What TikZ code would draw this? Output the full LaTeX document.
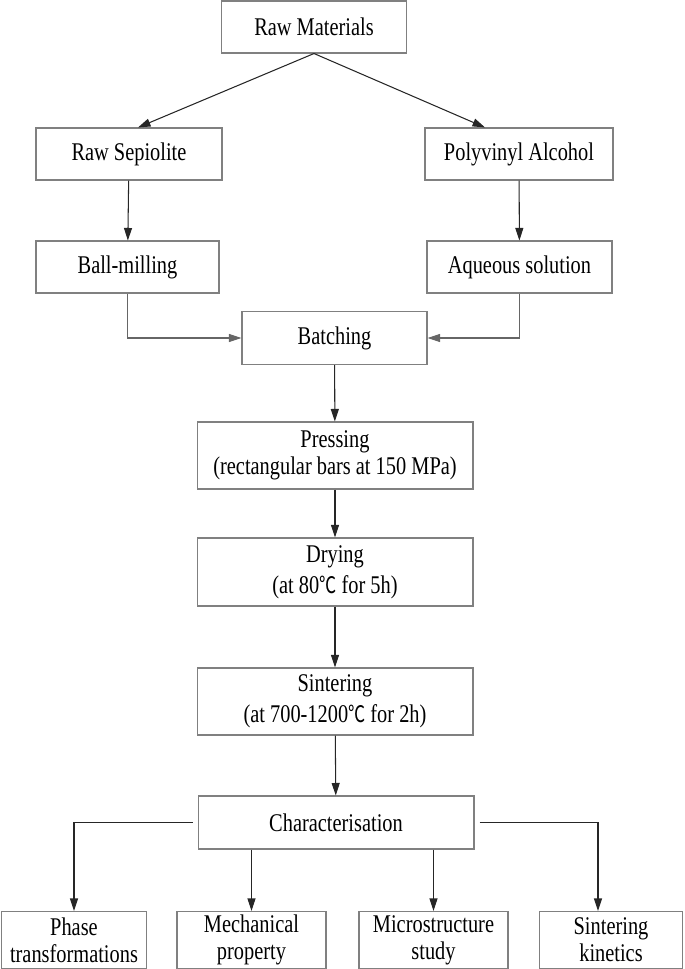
\documentclass[tikz,border=0pt]{standalone}
\usepackage{fontspec}
\setmainfont{Liberation Serif}[FakeStretch=0.8]
\newfontfamily\cjk{Noto Sans CJK SC}[FakeStretch=0.75]
\usetikzlibrary{arrows.meta}
\newcommand{\degc}{{\cjk\fontsize{13}{13}\selectfont ℃}}

\begin{document}
\begin{tikzpicture}[x=0.02cm, y=-0.02cm,
          >={Triangle[length=0.25cm, width=0.16cm]},
          stepbox/.style={rectangle, draw=black!50, line width=0.6pt, align=center,
            inner sep=0pt, font=\fontsize{14.5}{15.5}\selectfont},
          flow/.style={->, draw=black!85, line width=0.6pt},
          feed/.style={->, draw=black!60, line width=0.6pt}]

        \useasboundingbox (0,0) rectangle (685,969);

        \node[stepbox, minimum width=3.7cm,  minimum height=1.04cm] (raw)    at (314,27)    {Raw Materials};
        \node[stepbox, minimum width=3.72cm, minimum height=1.04cm] (sep)    at (129,154)   {Raw Sepiolite};
        \node[stepbox, minimum width=3.76cm, minimum height=1.04cm] (pva)    at (519,154)   {Polyvinyl Alcohol};
        \node[stepbox, minimum width=3.66cm, minimum height=1.04cm] (ball)   at (127.5,267) {Ball-milling};
        \node[stepbox, minimum width=3.7cm,  minimum height=1.04cm] (aq)     at (519.5,267) {Aqueous solution};
        \node[stepbox, minimum width=3.7cm,  minimum height=1.06cm] (batch)  at (334.5,338) {Batching};

        \node[stepbox, minimum width=5.52cm, minimum height=1.34cm] (press)  at (335,455.5) {Pressing\\(rectangular bars at 150 MPa)};
        \node[stepbox, minimum width=5.52cm, minimum height=1.36cm] (dry)    at (335,572)   {Drying\\[2pt](at 80\degc{} for 5h)};
        \node[stepbox, minimum width=5.52cm, minimum height=1.34cm] (sinter) at (335,701.5) {Sintering\\[2pt](at 700-1200\degc{} for 2h)};
        \node[stepbox, minimum width=5.52cm, minimum height=1.06cm] (char)   at (336,822.5) {Characterisation};

        \node[stepbox, minimum width=2.9cm,  minimum height=1.14cm] (phase)  at (74,940)    {Phase\\transformations};
        \node[stepbox, minimum width=2.98cm, minimum height=1.14cm] (mech)   at (251.5,940) {Mechanical\\property};
        \node[stepbox, minimum width=2.98cm, minimum height=1.14cm] (micro)  at (433.5,940) {Microstructure\\study};
        \node[stepbox, minimum width=2.86cm, minimum height=1.14cm] (kin)    at (611,940)   {Sintering\\kinetics};

        % raw materials
        \draw[flow] (raw.south) -- ([xshift=0.18cm]sep.north);
        \draw[flow] (raw.south) -- ([xshift=-0.68cm]pva.north);
        \draw[flow] (sep) -- (ball);
        \draw[flow] (pva) -- (aq);

        % batching
        \draw[feed] (ball.south) |- (batch.west);
        \draw[feed] (aq.south)   |- (batch.east);

        % processing
        \draw[flow] (batch)  -- (press);
        \draw[flow] (press)  -- (dry);
        \draw[flow] (dry)    -- (sinter);
        \draw[flow] (sinter) -- (char);

        % characterisation
        \draw[flow] ([xshift=-0.1cm]char.west) -| (phase.north);
        \draw[flow] (char.south -| mech.north)  -- (mech.north);
        \draw[flow] (char.south -| micro.north) -- (micro.north);
        \draw[flow] ([xshift=0.1cm]char.east) -| ([xshift=-0.26cm]kin.north);

      \end{tikzpicture}
\end{document}
